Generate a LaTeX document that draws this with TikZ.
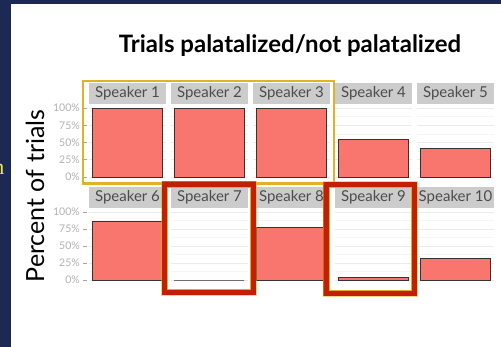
\documentclass[tikz,border=0pt]{standalone}
\usepackage{fontspec}
\setmainfont{Lato}
\newfontfamily\hintfont{Liberation Serif}
\usetikzlibrary{scopes}
\definecolor{navy}{RGB}{27,41,84}
\definecolor{salmon}{RGB}{248,118,109}
\definecolor{stripgrey}{RGB}{204,204,204}
\definecolor{gold}{RGB}{226,178,38}
\definecolor{boxred}{RGB}{194,32,4}
\definecolor{ticklab}{RGB}{178,178,178}
\definecolor{hintyellow}{RGB}{242,228,92}

\begin{document}
\begin{tikzpicture}[x=1pt,y=-1pt,
    strip/.style={fill=stripgrey,minimum width=77pt,minimum height=20.5pt,inner sep=0pt,text=black!70,font=\fontsize{15}{15}\selectfont},
    bar/.style={fill=salmon,draw=black!80,line width=0.8pt},
    major/.style={draw=black!8,line width=0.6pt},
    minor/.style={draw=black!4,line width=0.4pt},
    ticklab/.style={anchor=east,inner sep=0pt,text=ticklab,font=\fontsize{10.5}{10.5}\selectfont},
    tick/.style={draw=black!35,line width=0.6pt},
    hilite/.style={draw=gold,line width=2.5pt},
    pick/.style={draw=boxred,line width=5.5pt},
    pickedge/.style={draw=gold!85!orange,line width=0.7pt},
]
    \useasboundingbox (0,0) rectangle (501,347);
    \fill[navy] (0,0) rectangle (501,347);
    \fill[white] (11,4) rectangle (501,347);
    \node[anchor=base east,inner sep=0pt,text=hintyellow,font=\hintfont\fontsize{22}{22}\selectfont] (hint) at (4.5,175) {n};

    \node[font=\bfseries\fontsize{24}{24}\selectfont] (title) at (290,46) {Trials palatalized/not palatalized};
    \node[rotate=90,font=\fontsize{25}{25}\selectfont] (ylab) at (35,196) {Percent of trials};

    \foreach \n/\c/\v in {1/0/100,2/1/100,3/2/100,4/3/54,5/4/41} {
        \pgfmathsetmacro\xl{89+82*\c}
        \node[strip] (s\n) at (\xl+38.5,93.3) {Speaker \n};
        \foreach \g in {12.5,37.5,62.5,87.5} \draw[minor] (\xl,{177-0.69*\g}) -- ++(77,0);
        \foreach \g in {0,25,50,75,100} \draw[major] (\xl,{177-0.69*\g}) -- ++(77,0);
        \draw[bar] (\xl+3,177) rectangle (\xl+73,{177-0.69*\v});
    }
    \foreach \n/\c/\v in {6/0/86,7/1/0,8/2/78,9/3/4,10/4/32} {
        \pgfmathsetmacro\xl{89+82*\c}
        \node[strip] (s\n) at (\xl+38.5,197.5) {Speaker \n};
        \foreach \g in {12.5,37.5,62.5,87.5} \draw[minor] (\xl,{280-0.68*\g}) -- ++(77,0);
        \foreach \g in {0,25,50,75,100} \draw[major] (\xl,{280-0.68*\g}) -- ++(77,0);
        \draw[bar] (\xl+3,280) rectangle (\xl+73,{280-0.68*\v});
    }

    \foreach \g in {0,25,50,75,100} {
        \node[ticklab] (ta\g) at (80,{177-0.69*\g}) {\g\%};
        \draw[tick] ([xshift=2.5pt]ta\g.east) -- ++(4,0);
        \node[ticklab] (tb\g) at (80,{280-0.68*\g}) {\g\%};
        \draw[tick] ([xshift=2.5pt]tb\g.east) -- ++(4,0);
    }

    \draw[hilite] (83,81) rectangle (334,183.5);
    {[pick]
        \draw (164.5,184) rectangle (253.5,292.5);
        \draw (326,184.5) rectangle (414.5,293);
    }
    {[pickedge]
        \draw (167.4,186.9) rectangle (250.6,289.6);
        \draw (328.9,187.4) rectangle (411.6,290.1);
        \draw[opacity=0.5] (161.6,181.1) rectangle (256.4,295.4);
        \draw[opacity=0.5] (323.1,181.6) rectangle (417.4,295.9);
    }
\end{tikzpicture}
\end{document}
